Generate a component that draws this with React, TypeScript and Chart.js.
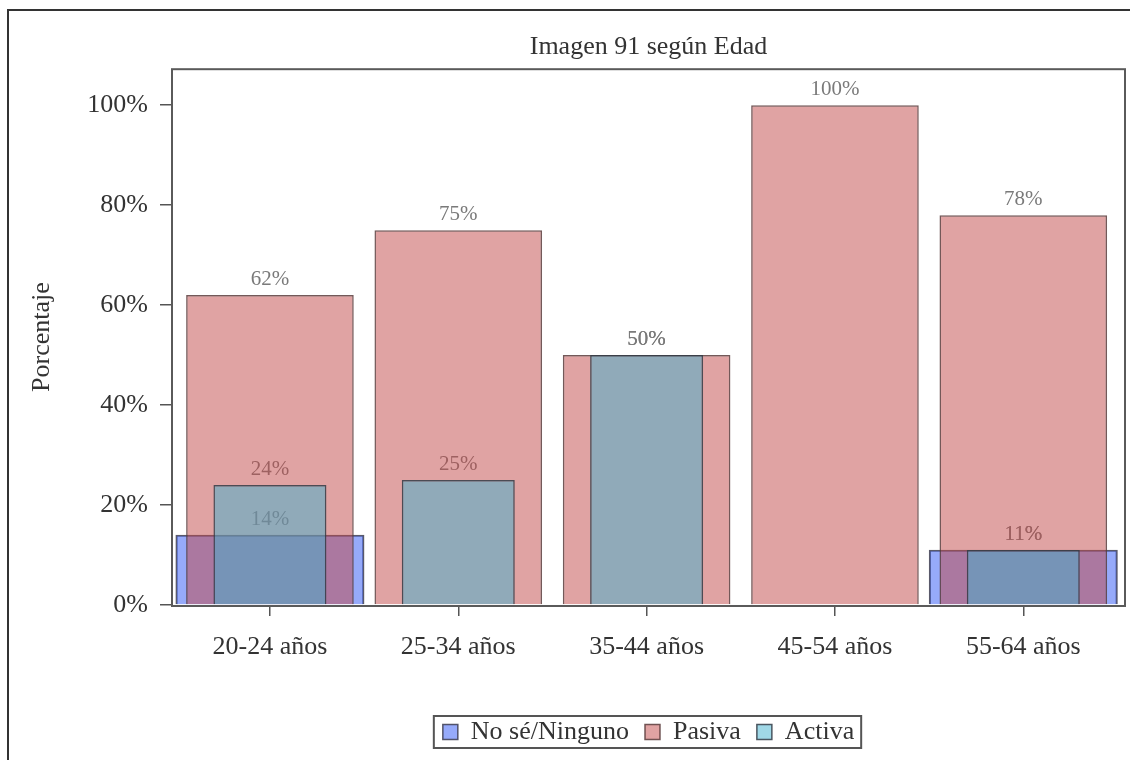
import React, { useEffect, useRef } from "react";
import { Chart, registerables } from "chart.js";

Chart.register(...registerables);

const TITLE = "Imagen 91 según Edad";
const Y_TITLE = "Porcentaje";
const CATEGORIES = ["20-24 años", "25-34 años", "35-44 años", "45-54 años", "55-64 años"];
const SERIES_NAMES = ["No sé/Ninguno", "Pasiva", "Activa"];
const NO_SE = [14, null, null, null, 11];
const PASIVA = [62, 75, 50, 100, 78];
const ACTIVA = [24, 25, 50, null, 11];
const Y_TICKS = [0, 20, 40, 60, 80, 100];

const FONT = "'Liberation Serif', 'Times New Roman', serif";

const toPoints = (arr: (number | null)[]) => arr.map((v, i) => ({ x: i, y: v }));

const labelPlugin = {
  id: "barLabels",
  afterDatasetDraw(chart: any, args: any) {
    const ctx = chart.ctx;
    const drawLabels = (di: number) => {
      const meta = chart.getDatasetMeta(di);
      const ds = chart.data.datasets[di];
      ctx.save();
      ctx.font = `21px ${FONT}`;
      ctx.fillStyle = "#7a7a7a";
      ctx.textAlign = "center";
      ctx.textBaseline = "alphabetic";
      meta.data.forEach((el: any, i: number) => {
        const v = ds.data[i].y;
        if (v === null || v === undefined) return;
        ctx.fillText(`${v}%`, el.x, el.y - 10);
      });
      ctx.restore();
    };
    if (args.index === 0) {
      drawLabels(0);
      drawLabels(2);
    } else if (args.index === 1) {
      drawLabels(1);
    }
  },
};

const framePlugin = {
  id: "frames",
  afterDraw(chart: any) {
    const ctx = chart.ctx;
    const a = chart.chartArea;
    ctx.save();
    ctx.strokeStyle = "#5a5a5a";
    ctx.lineWidth = 2;
    ctx.strokeRect(a.left, a.top, a.right - a.left, a.bottom - a.top + 1);
    // outer frame
    ctx.strokeStyle = "#333";
    ctx.beginPath();
    ctx.moveTo(8, 770);
    ctx.lineTo(8, 10);
    ctx.lineTo(1140, 10);
    ctx.stroke();
    // legend border
    const lg = chart.legend;
    if (lg && lg.legendHitBoxes && lg.legendHitBoxes.length) {
      const hb = lg.legendHitBoxes;
      const first = hb[0];
      const last = hb[hb.length - 1];
      const cy = first.top + first.height / 2;
      const x1 = first.left - 9;
      const x2 = last.left + last.width + 7;
      ctx.strokeStyle = "#555";
      ctx.lineWidth = 2;
      ctx.strokeRect(x1, cy - 16, x2 - x1, 32);
    }
    ctx.restore();
  },
};

export default function App() {
  const ref = useRef<HTMLCanvasElement>(null);
  useEffect(() => {
    const chart = new Chart(ref.current as HTMLCanvasElement, {
      type: "bar",
      data: {
        datasets: [
          {
            label: SERIES_NAMES[0],
            data: toPoints(NO_SE),
            backgroundColor: "rgba(45,85,245,0.5)",
            borderColor: "rgba(60,60,80,0.85)",
            borderWidth: 1.5,
            barPercentage: 1.0,
            categoryPercentage: 1.0,
            grouped: false,
            order: 3,
          },
          {
            label: SERIES_NAMES[1],
            data: toPoints(PASIVA),
            backgroundColor: "rgba(193,71,71,0.5)",
            borderColor: "rgba(90,60,60,0.85)",
            borderWidth: 1.5,
            barPercentage: 0.89,
            categoryPercentage: 1.0,
            grouped: false,
            order: 2,
          },
          {
            label: SERIES_NAMES[2],
            data: toPoints(ACTIVA),
            backgroundColor: "rgba(66,177,207,0.5)",
            borderColor: "rgba(50,60,70,0.85)",
            borderWidth: 1.5,
            barPercentage: 0.6,
            categoryPercentage: 1.0,
            grouped: false,
            order: 1,
          },
        ] as any,
      },
      options: {
        animation: false,
        responsive: false,
        layout: { padding: { left: 0, right: 5, top: 10, bottom: 5 } },
        scales: {
          x: {
            type: "linear",
            min: -0.52,
            max: 4.54,
            offset: false,
            afterFit: (s: any) => {
              s.height = 98;
            },
            border: { display: false },
            grid: { display: true, offset: false, drawOnChartArea: false, drawTicks: true, tickLength: 11, color: "#555", lineWidth: 1.5 },
            ticks: {
              stepSize: 1,
              includeBounds: false,
              autoSkip: false,
              maxRotation: 0,
              padding: 16,
              color: "#333",
              font: { family: FONT, size: 26 },
              callback: (v: any) => CATEGORIES[v as number] ?? "",
            },
          },
          y: {
            min: 0,
            max: 107.2,
            afterFit: (s: any) => {
              s.width = 172;
            },
            afterBuildTicks: (s: any) => {
              s.ticks = Y_TICKS.map((v) => ({ value: v }));
            },
            border: { display: false },
            grid: { display: true, drawOnChartArea: false, drawTicks: true, tickLength: 12, color: "#555", lineWidth: 1.5 },
            ticks: {
              padding: 12,
              color: "#333",
              font: { family: FONT, size: 26 },
              callback: (v: any) => `${v}%`,
            },
            title: {
              display: true,
              text: Y_TITLE,
              color: "#333",
              font: { family: FONT, size: 26 },
              padding: { top: 27, bottom: 0 },
            },
          },
        },
        plugins: {
          title: {
            display: true,
            text: TITLE,
            fullSize: false,
            color: "#333",
            font: { family: FONT, size: 26, weight: "normal" },
            padding: { top: 22, bottom: 6 },
          },
          legend: {
            display: true,
            position: "bottom",
            fullSize: false,
            labels: {
              color: "#333",
              font: { family: FONT, size: 26 },
              boxWidth: 15,
              boxHeight: 15,
              padding: 16,
              sort: (a: any, b: any) => a.datasetIndex - b.datasetIndex,
            },
          },
          tooltip: { enabled: false },
        },
      } as any,
      plugins: [labelPlugin, framePlugin],
    });
    return () => chart.destroy();
  }, []);
  return (
    <div style={{ position: "fixed", left: 0, top: 0, width: 1130, height: 760, background: "#fff" }}>
      <canvas ref={ref} width={1130} height={760} style={{ width: 1130, height: 760, display: "block" }} />
    </div>
  );
}
